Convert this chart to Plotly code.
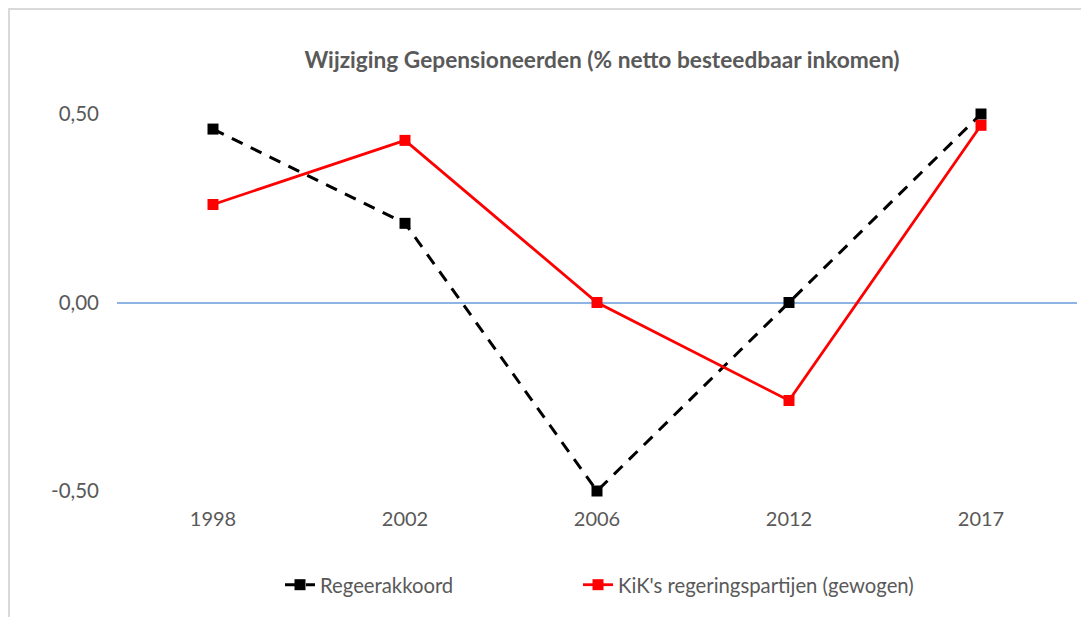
import plotly.graph_objects as go

years = ["1998", "2002", "2006", "2012", "2017"]
regeerakkoord = [0.46, 0.21, -0.50, 0.00, 0.50]
kik = [0.26, 0.43, 0.00, -0.26, 0.47]
y_ticks = [-0.5, 0.0, 0.5]
y_tick_labels = ["-0,50", "0,00", "0,50"]

FONT = "Lato, sans-serif"
GREY = "#595959"

# page body has an 8px margin; layout is sized to compensate
W, H = 1081, 609
L, R, T, B = 109, 12, 106, 126
PW, PH = W - L - R, H - T - B

fig = go.Figure()
fig.add_trace(go.Scatter(
    x=years, y=regeerakkoord, name="Regeerakkoord", mode="lines+markers",
    line=dict(color="black", width=3, dash="12px,9px"),
    marker=dict(symbol="square", size=11, color="black"),
    legend="legend", cliponaxis=False,
))
fig.add_trace(go.Scatter(
    x=years, y=kik, name="KiK's regeringspartijen (gewogen)", mode="lines+markers",
    line=dict(color="#FF0000", width=2.8),
    marker=dict(symbol="square", size=11, color="#FF0000"),
    legend="legend2", cliponaxis=False,
))

leg_y = (H - B - 577) / PH
leg_common = dict(orientation="h", yanchor="middle", y=leg_y, xanchor="left",
                  font=dict(family=FONT, size=20.3, color=GREY), bgcolor="rgba(0,0,0,0)")

fig.update_layout(
    width=W, height=H,
    margin=dict(l=L, r=R, t=T, b=B),
    paper_bgcolor="white", plot_bgcolor="white",
    font=dict(family=FONT, size=20, color=GREY),
    title=dict(text="<b>Wijziging Gepensioneerden (% netto besteedbaar inkomen)</b>",
               x=594 / W, xanchor="center", y=1 - 52 / H, yanchor="middle",
               font=dict(family=FONT, size=22.7, color=GREY)),
    xaxis=dict(type="category", range=[-0.5, 4.5], showgrid=False, zeroline=False,
               showline=False, ticks="", ticklabelstandoff=14,
               tickfont=dict(size=20, color=GREY)),
    yaxis=dict(range=[-0.5, 0.5], tickvals=y_ticks, ticktext=y_tick_labels,
               showgrid=True, gridcolor="#D9D9D9", gridwidth=1.5,
               zeroline=True, zerolinecolor="#8DB4E2", zerolinewidth=1.5,
               showline=False, ticks="", ticklen=0, ticklabelstandoff=17,
               tickfont=dict(size=20.5, color=GREY)),
    legend=dict(x=(280 - 8 - L) / PW, **leg_common),
    legend2=dict(x=(578 - 8 - L) / PW, **leg_common),
    showlegend=True,
)

fig.add_shape(type="rect", xref="paper", yref="paper",
              x0=(1 - L) / PW, x1=1.2, y0=-0.6, y1=(H - B - 1) / PH,
              line=dict(color="#D9D9D9", width=2), fillcolor="rgba(0,0,0,0)", layer="below")

fig.write_html("out.html")
